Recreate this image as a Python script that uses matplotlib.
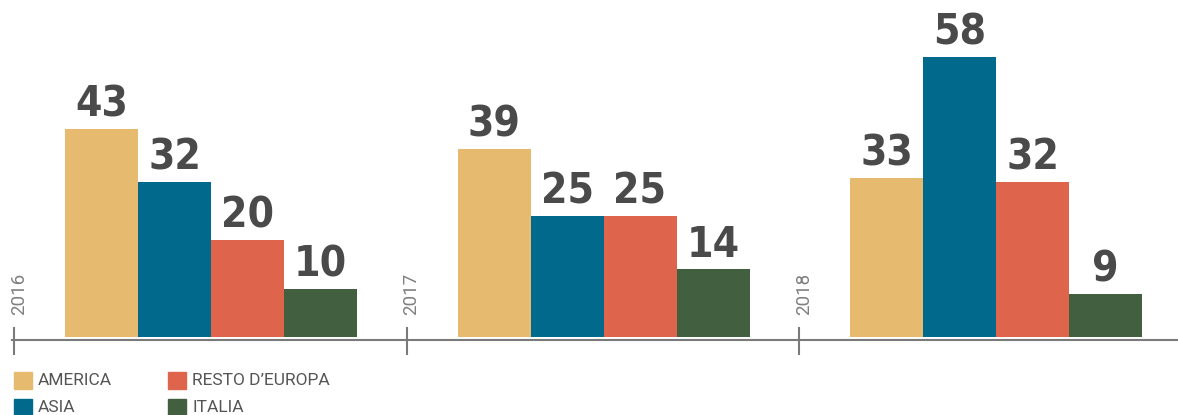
import matplotlib.pyplot as plt
from matplotlib.patches import Rectangle

years = ["2016", "2017", "2018"]
regions = ["AMERICA", "ASIA", "RESTO D\u2019EUROPA", "ITALIA"]
colors = ["#E6BB6F", "#00698C", "#DE644B", "#426040"]
values = [
    [43, 32, 20, 10],
    [39, 25, 25, 14],
    [33, 58, 32, 9],
]

W, H = 1178, 415
fig = plt.figure(figsize=(W / 100, H / 100), dpi=100)
ax = fig.add_axes([0, 0, 1, 1])
ax.set_axis_off()

# x in pixels, y in value units (baseline 78 px above bottom, 4.83 px per unit)
scale = 4.83
base = 78
ax.set_xlim(0, W)
ax.set_ylim(-base / scale, (H - base) / scale)

bar_w = 73
group_start = 65
group_step = 392.5

for g, year in enumerate(years):
    x0 = group_start + g * group_step
    xs = [x0 + bar_w / 2 + i * bar_w for i in range(len(regions))]
    ax.bar(xs, values[g], width=bar_w, color=colors, linewidth=0)
    for x, v in zip(xs, values[g]):
        ax.annotate(str(v), (x, v), xytext=(0, 9), textcoords="offset points",
                    ha="center", va="baseline", fontsize=30.5, fontweight="bold",
                    fontstretch="condensed", color="#4a4a4a", family="DejaVu Sans")
    # tick and year label
    tx = 14 + g * group_step
    ax.plot([tx, tx], [2.1, -3.7], color="#7a7a7a", lw=1.5, solid_capstyle="butt")
    ax.text(tx + 5, 4.5, year, rotation=90, ha="center", va="bottom",
            fontsize=13.5, color="#808080", family="Roboto")

ax.plot([12, W], [-0.62, -0.62], color="#7a7a7a", lw=1.5)

# legend
leg_pos = [(14, 372), (14, 399), (168, 372), (168, 399)]
for (lx, ly), name, c in zip(leg_pos, regions, colors):
    fig.patches.append(Rectangle((lx / W, 1 - (ly + 17) / H), 18 / W, 17 / H,
                                 transform=fig.transFigure, color=c))
    fig.text((lx + 24) / W, 1 - (ly + 8.5) / H, name, ha="left", va="center",
             fontsize=12.5, color="#555555", family="Roboto")

fig.savefig("out.png", dpi=100)
